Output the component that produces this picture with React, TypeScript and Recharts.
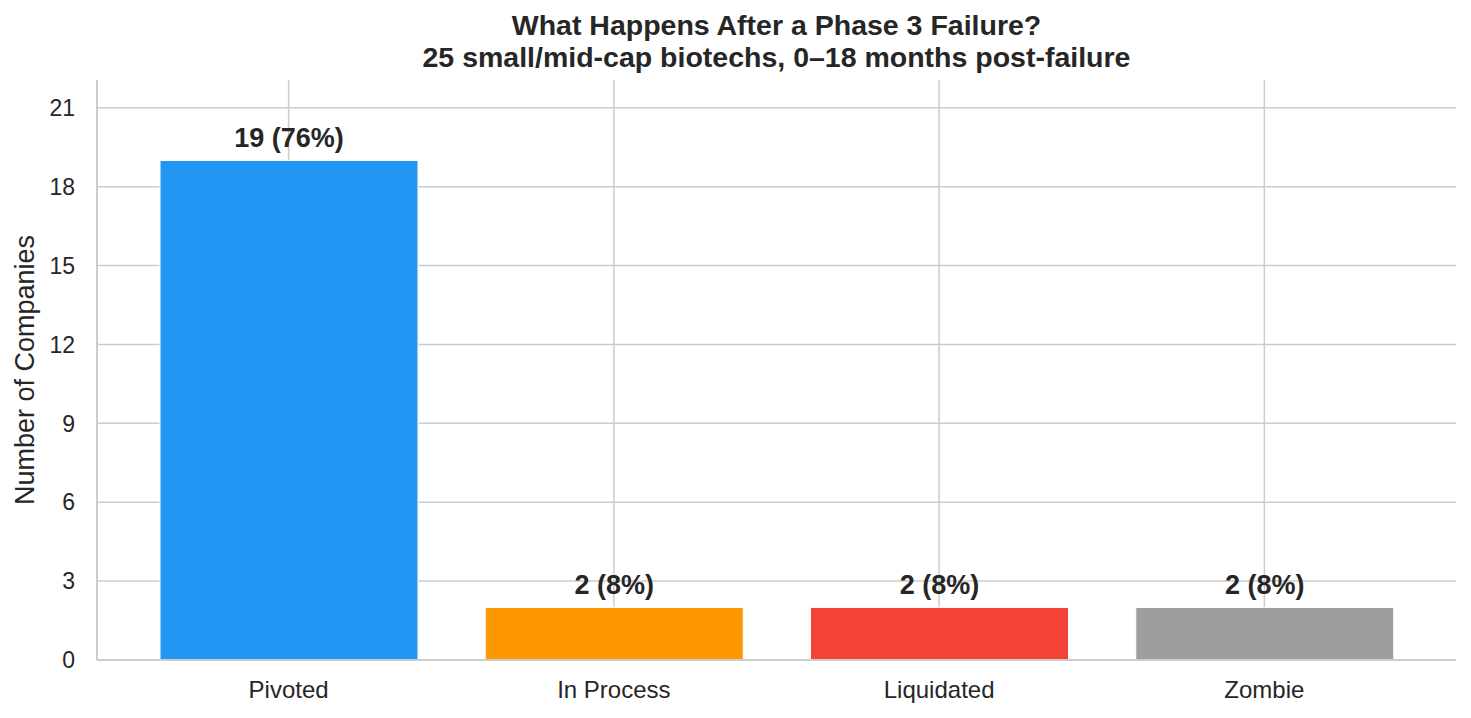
import React from 'react';
import { BarChart, Bar, XAxis, YAxis, CartesianGrid, Cell, LabelList, Label } from 'recharts';

const categories = ['Pivoted', 'In Process', 'Liquidated', 'Zombie'];
const counts = [19, 2, 2, 2];
const colors = ['#2196F3', '#FF9800', '#F44336', '#9E9E9E'];
const yTicks = [0, 3, 6, 9, 12, 15, 18, 21];
const totalCompanies = 25;

const data = categories.map((c, i) => ({
  name: c,
  value: counts[i],
  label: `${counts[i]} (${Math.round((counts[i] / totalCompanies) * 100)}%)`,
}));

const FONT = '"Liberation Sans", Arial, sans-serif';
const TXT = '#262626';
const GRID = '#cccccc';

export default function App() {
  return (
    <div style={{ position: 'absolute', left: 0, top: 0, width: 1471, height: 718, background: '#fff', fontFamily: FONT }}>
      <BarChart width={1471} height={718} data={data} margin={{ top: 80, right: 15, bottom: 0, left: 0 }}>
        <CartesianGrid stroke={GRID} strokeWidth={1.5} syncWithTicks />
        <XAxis
          dataKey="name"
          type="category"
          padding={{ left: 29, right: 29 }}
          axisLine={{ stroke: GRID, strokeWidth: 2 }}
          tickLine={false}
          tick={{ fill: TXT, fontSize: 24, fontFamily: FONT }}
          tickSize={6}
          tickMargin={15}
          height={58}
        />
        <YAxis
          type="number"
          domain={[0, 22.06]}
          ticks={yTicks}
          allowDataOverflow
          axisLine={{ stroke: GRID, strokeWidth: 2 }}
          tickLine={false}
          tick={{ fill: TXT, fontSize: 23, fontFamily: FONT }}
          tickSize={6}
          tickMargin={16}
          width={97}
        >
          <Label value="Number of Companies" angle={-90} position="insideLeft" offset={24} style={{ fill: TXT, fontSize: 27, fontFamily: FONT, textAnchor: 'middle' }} />
        </YAxis>
        <Bar dataKey="value" barSize={258} isAnimationActive={false} stroke="#ffffff" strokeWidth={1}>
          {data.map((d, i) => (
            <Cell key={d.name} fill={colors[i]} />
          ))}
          <LabelList dataKey="label" position="top" offset={13} style={{ fill: TXT, fontSize: 27, fontWeight: 'bold', fontFamily: FONT }} />
        </Bar>
      </BarChart>
      <div style={{ position: 'absolute', left: 97, top: 9, width: 1359, textAlign: 'center', fontWeight: 'bold', fontSize: 28.5, lineHeight: '32px', color: TXT, whiteSpace: 'nowrap' }}>
        What Happens After a Phase 3 Failure?
        <br />
        25 small/mid-cap biotechs, 0–18 months post-failure
      </div>
    </div>
  );
}
